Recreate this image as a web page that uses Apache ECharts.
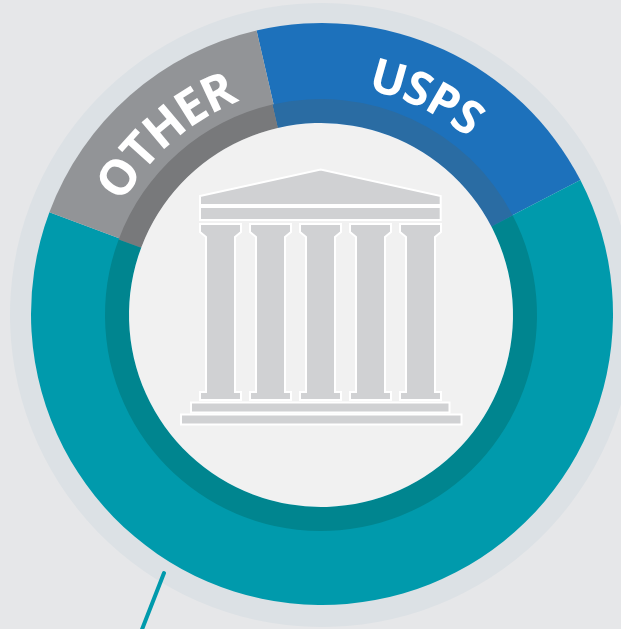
<!DOCTYPE html>
<html>
<head>
<meta charset="utf-8">
<title>Chart</title>
<style>
html, body { margin: 0; padding: 0; background: #e6e7e9; }
#main { width: 621px; height: 629px; }
</style>
<script src="https://cdn.jsdelivr.net/npm/echarts@6/dist/echarts.min.js"></script>
</head>
<body>
<div id="main"></div>
<script>
// shares, clockwise from the USPS slice
var categories = ['USPS', 'Main', 'OTHER'];
var shares = [21, 63.3, 15.7];
var outerColors = ['#1d71bb', '#009aac', '#929497'];
var innerColors = ['#2a6ca3', '#00858f', '#78797b'];

var columnLefts = [200, 250, 300, 350, 400];

var chart = echarts.init(document.getElementById('main'));

function sliceData(colors) {
    return categories.map(function (name, i) {
        return { name: name, value: shares[i], itemStyle: { color: colors[i] } };
    });
}

function ring(center, radius, data, z) {
    return {
        type: 'pie',
        center: center,
        radius: radius,
        startAngle: 103,
        z: z,
        silent: true,
        animation: false,
        label: { show: false },
        labelLine: { show: false },
        data: data
    };
}

// one text element per letter, laid along the arc
var measure = document.createElement('canvas').getContext('2d');
function arcText(word, midAngle, radius, fontSize, spacing) {
    var font = 'bold ' + fontSize + 'px "Open Sans"';
    measure.font = font;
    var widths = word.split('').map(function (c) { return measure.measureText(c).width + spacing; });
    var total = widths.reduce(function (a, b) { return a + b; }, 0);
    var run = -total / 2;
    return word.split('').map(function (c, i) {
        var a = (midAngle + (run + widths[i] / 2) / radius * 180 / Math.PI) * Math.PI / 180;
        run += widths[i];
        return {
            type: 'text',
            x: 322 + radius * Math.sin(a),
            y: 314 - radius * Math.cos(a),
            rotation: -a,
            z: 20,
            style: {
                text: c,
                font: font,
                fill: '#fff',
                align: 'center',
                verticalAlign: 'middle'
            }
        };
    });
}

var templeStyle = { fill: '#d0d1d3', stroke: '#fff', lineWidth: 2 };

function templePart(points) {
    return { type: 'polygon', z: 10, shape: { points: points }, style: templeStyle };
}

function templeRect(x1, y1, x2, y2) {
    return templePart([[x1, y1], [x2, y1], [x2, y2], [x1, y2]]);
}

function column(x) {
    return templePart([
        [x, 224], [x + 41, 224], [x + 41, 232], [x + 35, 237], [x + 35, 392], [x + 41, 392],
        [x + 41, 400], [x, 400], [x, 392], [x + 6, 392], [x + 6, 237], [x, 232]
    ]);
}

var temple = [
    templePart([[200, 196], [320.7, 169.5], [440.7, 196], [440.7, 205], [200, 205]]),
    templeRect(200, 207, 440.7, 220),
    templeRect(191, 402.5, 449.5, 412.5),
    templeRect(181, 414.5, 461.5, 424.5)
].concat(columnLefts.map(column));

var pointer = {
    type: 'line',
    z: 15,
    shape: { x1: 164, y1: 573, x2: 141, y2: 632 },
    style: { stroke: '#009aac', lineWidth: 4, lineCap: 'round' }
};

chart.setOption({
    backgroundColor: '#e6e7e9',
    animation: false,
    series: [
        ring([322, 315], [0, 312], [{ value: 1, itemStyle: { color: '#dce1e5' } }], 1),
        ring([322, 314], [0, 291], sliceData(outerColors), 2),
        ring([321, 315], [192, 216], sliceData(innerColors), 3),
        ring([321, 315], [0, 192], [{ value: 1, itemStyle: { color: '#f1f1f1' } }], 4)
    ],
    graphic: temple.concat(
        [pointer],
        arcText('OTHER', -41, 242, 49, 0.5),
        arcText('USPS', 25.6, 242, 47, 0.5)
    )
});
</script>
</body>
</html>
